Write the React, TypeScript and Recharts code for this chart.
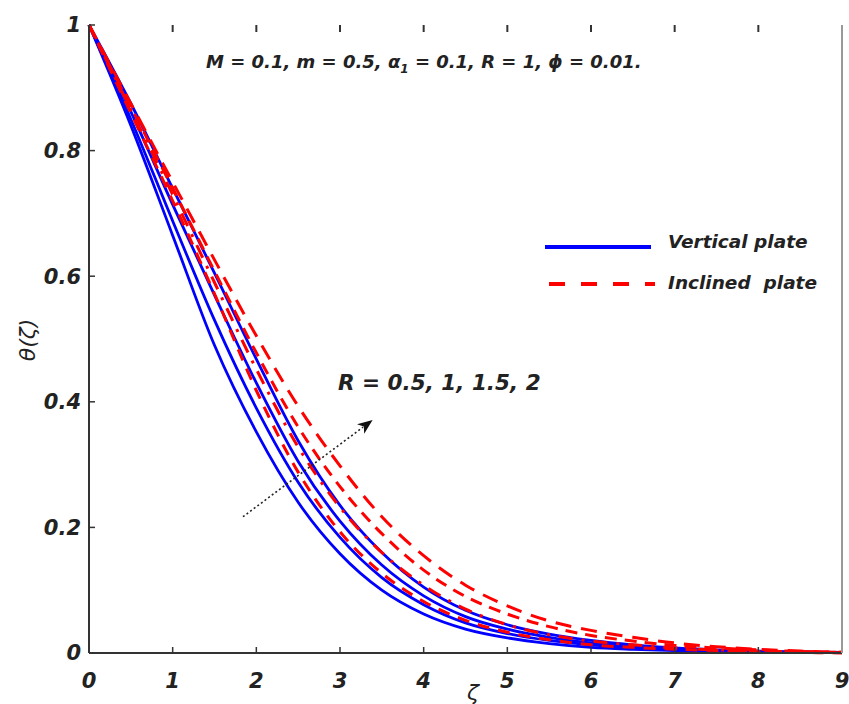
import { Line, LineChart, ReferenceLine, XAxis, YAxis } from 'recharts';

// ζ sample positions
const zeta = [0, 0.5, 1, 1.5, 2, 2.5, 3, 3.5, 4, 4.5, 5, 5.5, 6, 6.5, 7, 7.5, 8, 8.5, 9];

// vertical plate, R = 0.5, 1, 1.5, 2
const verticalR05 = [1, 0.84, 0.665, 0.49, 0.352, 0.24, 0.158, 0.1, 0.062, 0.038, 0.024, 0.015, 0.009, 0.006, 0.004, 0.003, 0.002, 0.001, 0.001];
const verticalR1 = [1, 0.85, 0.688, 0.53, 0.39, 0.272, 0.184, 0.12, 0.077, 0.048, 0.031, 0.02, 0.013, 0.008, 0.005, 0.003, 0.002, 0.001, 0.001];
const verticalR15 = [1, 0.862, 0.714, 0.57, 0.43, 0.305, 0.21, 0.14, 0.091, 0.058, 0.038, 0.025, 0.016, 0.01, 0.006, 0.004, 0.002, 0.001, 0.001];
const verticalR2 = [1, 0.875, 0.74, 0.605, 0.468, 0.338, 0.235, 0.16, 0.105, 0.068, 0.045, 0.03, 0.02, 0.013, 0.008, 0.005, 0.003, 0.002, 0.001];

// inclined plate, R = 0.5, 1, 1.5, 2
const inclinedR05 = [1, 0.86, 0.72, 0.572, 0.418, 0.288, 0.193, 0.127, 0.082, 0.052, 0.033, 0.021, 0.013, 0.009, 0.006, 0.004, 0.002, 0.001, 0];
const inclinedR1 = [1, 0.865, 0.73, 0.59, 0.452, 0.328, 0.232, 0.16, 0.108, 0.07, 0.045, 0.029, 0.019, 0.013, 0.008, 0.005, 0.003, 0.002, 0.001];
const inclinedR15 = [1, 0.87, 0.74, 0.608, 0.478, 0.36, 0.265, 0.19, 0.132, 0.09, 0.062, 0.042, 0.028, 0.019, 0.012, 0.008, 0.005, 0.002, 0.001];
const inclinedR2 = [1, 0.875, 0.75, 0.626, 0.505, 0.393, 0.298, 0.217, 0.155, 0.108, 0.075, 0.051, 0.036, 0.025, 0.016, 0.01, 0.006, 0.003, 0.001];

const xTicks = [0, 1, 2, 3, 4, 5, 6, 7, 8, 9];
const yTicks = [0, 0.2, 0.4, 0.6, 0.8, 1];
const X_MIN = 0;
const X_MAX = 9;

// arrow annotation: from → to, in data units
const arrowFrom = { x: 1.84, y: 0.217 };
const arrowTo = { x: 3.39, y: 0.371 };

const rows = zeta.map((z, i) => ({
  zeta: z,
  v1: verticalR05[i],
  v2: verticalR1[i],
  v3: verticalR15[i],
  v4: verticalR2[i],
  i1: inclinedR05[i],
  i2: inclinedR1[i],
  i3: inclinedR15[i],
  i4: inclinedR2[i],
}));

const FONT = '"DejaVu Sans", sans-serif';
const tickStyle = { fontSize: 21, fontFamily: FONT, fontStyle: 'italic', fontWeight: 700, fill: '#222' };

const BLUE = '#0000ff';
const RED = '#ff0000';

function ArrowShape(props: any) {
  const { x1, y1, x2, y2 } = props;
  const a = Math.atan2(y2 - y1, x2 - x1);
  const len = 15;
  const half = 6;
  const bx = x2 - len * Math.cos(a);
  const by = y2 - len * Math.sin(a);
  const pts = [
    `${x2},${y2}`,
    `${bx + half * Math.sin(a)},${by - half * Math.cos(a)}`,
    `${bx + 4 * Math.cos(a)},${by + 4 * Math.sin(a)}`,
    `${bx - half * Math.sin(a)},${by + half * Math.cos(a)}`,
  ].join(' ');
  return (
    <g>
      <line x1={x1} y1={y1} x2={bx + 3 * Math.cos(a)} y2={by + 3 * Math.sin(a)} stroke="#222" strokeWidth={1.6} strokeDasharray="2 2.5" />
      <polygon points={pts} fill="#111" />
    </g>
  );
}

// top edge: no frame line, only short inward ticks at the x tick values
function TopTicks(props: any) {
  const { x1, y1, x2 } = props;
  const span = x2 - x1;
  return (
    <g>
      {xTicks.slice(1, -1).map((t) => {
        const px = x1 + (span * (t - X_MIN)) / (X_MAX - X_MIN);
        return <line key={t} x1={px} y1={y1} x2={px} y2={y1 + 7} stroke="#333" strokeWidth={2} />;
      })}
    </g>
  );
}

const textBase: React.CSSProperties = {
  position: 'absolute',
  fontFamily: FONT,
  fontStyle: 'italic',
  fontWeight: 700,
  color: '#222',
  whiteSpace: 'pre',
  lineHeight: 1,
};

export default function App() {
  return (
    <div style={{ position: 'absolute', left: 0, top: 0, width: 849, height: 704, background: '#fff', overflow: 'hidden' }}>
      <LineChart width={849} height={704} data={rows} margin={{ top: 25, right: 6, bottom: 0, left: 0 }}>
        <XAxis
          dataKey="zeta"
          type="number"
          domain={[X_MIN, X_MAX]}
          ticks={xTicks}
          interval={0}
          height={51}
          tick={tickStyle}
          tickSize={-6}
          tickMargin={26}
          axisLine={{ stroke: '#333', strokeWidth: 2 }}
          tickLine={{ stroke: '#333', strokeWidth: 1.5 }}
        />
        <YAxis
          type="number"
          domain={[0, 1]}
          ticks={yTicks}
          interval={0}
          width={89}
          tick={tickStyle}
          tickSize={-6}
          tickMargin={14}
          axisLine={{ stroke: '#333', strokeWidth: 2 }}
          tickLine={{ stroke: '#333', strokeWidth: 1.5 }}
        />
        <YAxis
          yAxisId="right"
          orientation="right"
          type="number"
          domain={[0, 1]}
          width={1}
          tick={false}
          tickLine={false}
          axisLine={{ stroke: '#999', strokeWidth: 2 }}
        />
        <Line dataKey="v1" type="monotone" stroke={BLUE} strokeWidth={2.8} dot={false} isAnimationActive={false} />
        <Line dataKey="v2" type="monotone" stroke={BLUE} strokeWidth={2.8} dot={false} isAnimationActive={false} />
        <Line dataKey="v3" type="monotone" stroke={BLUE} strokeWidth={2.8} dot={false} isAnimationActive={false} />
        <Line dataKey="v4" type="monotone" stroke={BLUE} strokeWidth={2.8} dot={false} isAnimationActive={false} />
        <Line dataKey="i1" type="monotone" stroke={RED} strokeWidth={3} strokeDasharray="12 9" dot={false} isAnimationActive={false} />
        <Line dataKey="i2" type="monotone" stroke={RED} strokeWidth={3} strokeDasharray="14 9 3 9" dot={false} isAnimationActive={false} />
        <Line dataKey="i3" type="monotone" stroke={RED} strokeWidth={3} strokeDasharray="12 8" dot={false} isAnimationActive={false} />
        <Line dataKey="i4" type="monotone" stroke={RED} strokeWidth={3} strokeDasharray="16 10" dot={false} isAnimationActive={false} />
        <ReferenceLine
          segment={[{ x: X_MIN, y: 1 }, { x: X_MAX, y: 1 }]}
          stroke="#444"
          shape={TopTicks}
          ifOverflow="visible"
        />
        <ReferenceLine
          segment={[arrowFrom, arrowTo]}
          stroke="#222"
          shape={ArrowShape}
          ifOverflow="visible"
        />
      </LineChart>

      {/* parameter line */}
      <div style={{ ...textBase, left: 206, top: 53, fontSize: 18 }}>
        M = 0.1, m = 0.5, α<sub style={{ fontSize: 12 }}>1</sub> = 0.1, R = 1, ϕ = 0.01.
      </div>

      {/* R annotation */}
      <div style={{ ...textBase, left: 338, top: 372, fontSize: 21.5 }}>R = 0.5, 1, 1.5, 2</div>

      {/* legend */}
      <svg style={{ position: 'absolute', left: 540, top: 235 }} width={120} height={60}>
        <line x1={5} y1={12} x2={111} y2={12} stroke={BLUE} strokeWidth={4} />
        <line x1={9} y1={49} x2={115} y2={49} stroke={RED} strokeWidth={4} strokeDasharray="16 16" />
      </svg>
      <div style={{ ...textBase, left: 668, top: 233, fontSize: 18.5 }}>Vertical plate</div>
      <div style={{ ...textBase, left: 668, top: 274, fontSize: 18.5 }}>Inclined  plate</div>

      {/* axis titles */}
      <div
        style={{
          ...textBase,
          fontWeight: 400,
          fontSize: 22,
          left: 28,
          top: 340,
          transform: 'translate(-50%, -50%) rotate(-90deg)',
        }}
      >
        θ(ζ)
      </div>
      <div style={{ ...textBase, fontWeight: 400, fontSize: 22, left: 467, top: 682 }}>ζ</div>
    </div>
  );
}
